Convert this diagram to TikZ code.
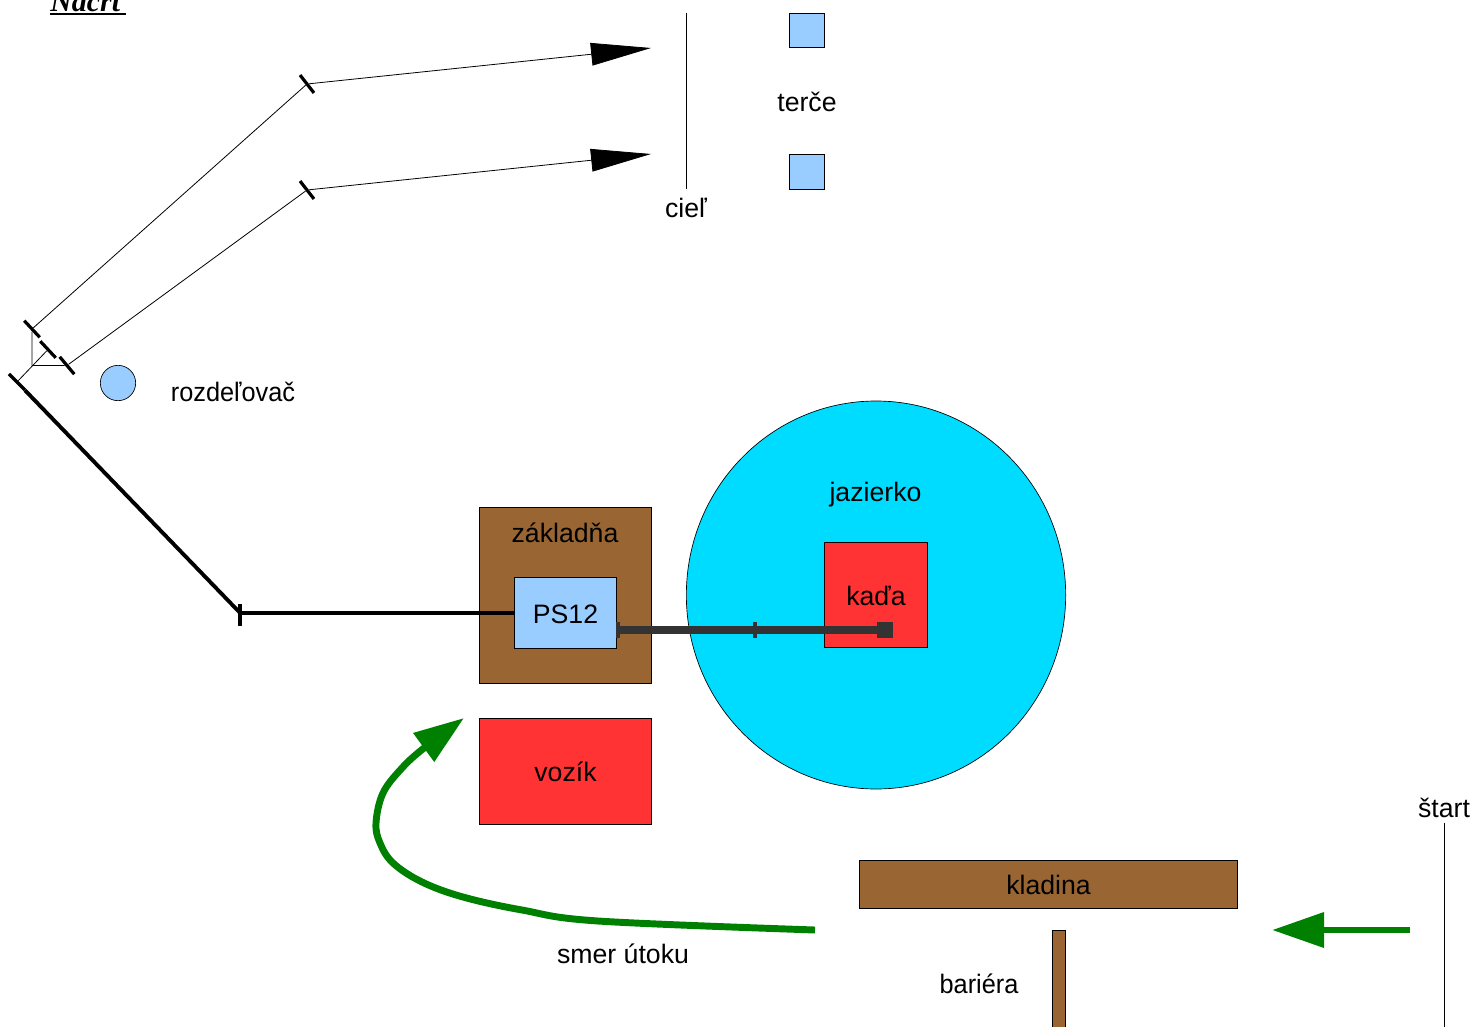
\documentclass[tikz,border=0pt]{standalone}
\usepackage{fontspec}
\setmainfont{Liberation Sans}
\newfontfamily\titlefont{Liberation Serif}
\usetikzlibrary{arrows.meta,shapes.geometric}
\definecolor{modra}{HTML}{99CCFF}
\definecolor{hneda}{HTML}{996633}
\definecolor{cervena}{HTML}{FF3333}
\definecolor{voda}{HTML}{00DCFF}
\definecolor{zelena}{HTML}{008000}
\definecolor{tmava}{HTML}{333333}
\begin{document}
\begin{tikzpicture}[x=0.75pt,y=-0.75pt,
    every node/.style = {font=\fontsize{20}{24}\selectfont},
    box/.style = {draw, inner sep=0pt, line width=0.5pt, text height=16pt},
    tickmark/.style = {fill=black, inner sep=0pt, minimum width=2.4pt, minimum height=17pt},
    ptick/.style = {fill=tmava, inner sep=0pt, minimum width=3pt, minimum height=12pt},
    ray/.style = {line width=0.6pt},
    rayhead/.style = {ray, -{Triangle[length=45pt,width=17pt]}},
    pipe/.style = {line width=2.9pt},
    hose/.style = {line width=5.5pt, color=tmava},
    attack/.style = {line width=5.2pt, color=zelena}]
\useasboundingbox (0,0) rectangle (1473,1027);

\node[anchor=base west, inner sep=0pt, font=\titlefont\fontsize{22.5}{27}\selectfont\bfseries\itshape] (nacrt) at (50,12) {\rlap{\rule[-2.2pt]{57pt}{1.2pt}}Náčrt};

% targets
\node[box, fill=modra, minimum width=26.5pt, minimum height=26pt] (terc1) at (807,30.5) {};
\node[box, fill=modra, minimum width=26.5pt, minimum height=26pt] (terc2) [below of=terc1, node distance=105.75pt] {};
\node (terce) at (807,102) {terče};
\coordinate (c1) at (686,13);
\coordinate (c2) at (686,189);
\node (ciel) at (686,208) {cieľ};
\draw[ray] (c1) -- (c2);

% splitter
\node[tickmark, rotate=38] (t1) at (307,84) {};
\node[tickmark, rotate=38] (t2) at (307,190) {};
\node[tickmark, rotate=43] (r1) at (32,329) {};
\node[tickmark, rotate=43] (r2) at (48,349.5) {};
\node[tickmark, rotate=40] (r3) at (67,365.5) {};
\node[tickmark, rotate=45] (r4) at (17,382) {};
\coordinate (k) at (32,365.5);
\coordinate (h1) at (651,48);
\coordinate (h2) at (651,154);
\draw[ray] (r1) -- (t1);
\draw[ray] (r3) -- (t2);
\draw[rayhead] (t1) -- (h1);
\draw[rayhead] (t2) -- (h2);
\draw[ray] (r1) -- (k);
\draw[ray] (k) -- (r3);
\draw[ray] (r4) -- (r2);
\node[box, circle, fill=modra, minimum size=26.5pt] (rozd) at (118,383) {};
\node[xscale=0.95] (rozdtext) at (233,392) {rozdeľovač};

% pond
\node[box, ellipse, fill=voda, minimum width=284.5pt, minimum height=291pt] (jazierko) at (876,595) {};
\node (jaztext) at (875.5,494.5) {jazierko};
\node[box, fill=cervena, minimum width=77.5pt, minimum height=79pt] (kada) at (876,595) {};
\node (kadatext) at (876,596) {kaďa};

% base
\node[box, fill=hneda, minimum width=129.25pt, minimum height=131.5pt] (zakl) at (565.5,595.3) {};
\node (zakltext) at (565,533) {základňa};
\node[box, fill=modra, minimum width=76.75pt, minimum height=52.75pt] (ps) at (565.5,612.8) {PS12};
\node[box, fill=cervena, minimum width=129.25pt, minimum height=79pt] (vozik) at (565.5,771.3) {vozík};

% pipes
\node[tickmark] (k1) at (240,615) {};
\coordinate (k0) at (240,612.8);
\draw[pipe] (r4) -- (k0);
\draw[pipe] (k0) -- (ps);
\node[ptick] (p1) at (618,630) {};
\node[ptick] (p2) at (755,630) {};
\node[fill=tmava, inner sep=0pt, minimum size=12pt] (p3) at (885,630) {};
\draw[hose] (p1) -- (p2);
\draw[hose] (p2) -- (p3);

% beam, barrier, start
\node[box, fill=hneda, minimum width=283.75pt, minimum height=36pt] (kladina) at (1048.5,884) {kladina};
\node[box, fill=hneda, minimum width=10pt, minimum height=90pt] (bariera) at (1059,990) {};
\node[xscale=0.95] (barieratext) at (979,984) {bariéra};
\node (start) at (1444,808) {štart};
\coordinate (s1) at (1444,1027);
\draw[ray] (start) -- (s1);

% attack direction
\coordinate (a1) at (1410,930);
\coordinate (a2) at (1272,930);
\draw[attack, -{Triangle[length=39pt,width=25.5pt]}] (a1) -- (a2);
\coordinate (b0) at (815,930);
\coordinate (b1) at (598,921);
\coordinate (b2) at (522,910);
\coordinate (b3) at (463,897);
\coordinate (b4) at (422,882);
\coordinate (b5) at (393,863);
\coordinate (b6) at (380,843);
\coordinate (b7) at (376,823);
\coordinate (b8) at (383,793);
\coordinate (b9) at (402,768);
\coordinate (b10) at (424,748);
\coordinate (b11) at (464,718);
\draw[attack, -{Triangle[length=37.5pt,width=25.5pt]}] plot[smooth, tension=0.6] coordinates {(b0) (b1) (b2) (b3) (b4) (b5) (b6) (b7) (b8) (b9) (b10) (b11)};
\node (smer) at (623,954) {smer útoku};
\end{tikzpicture}
\end{document}
